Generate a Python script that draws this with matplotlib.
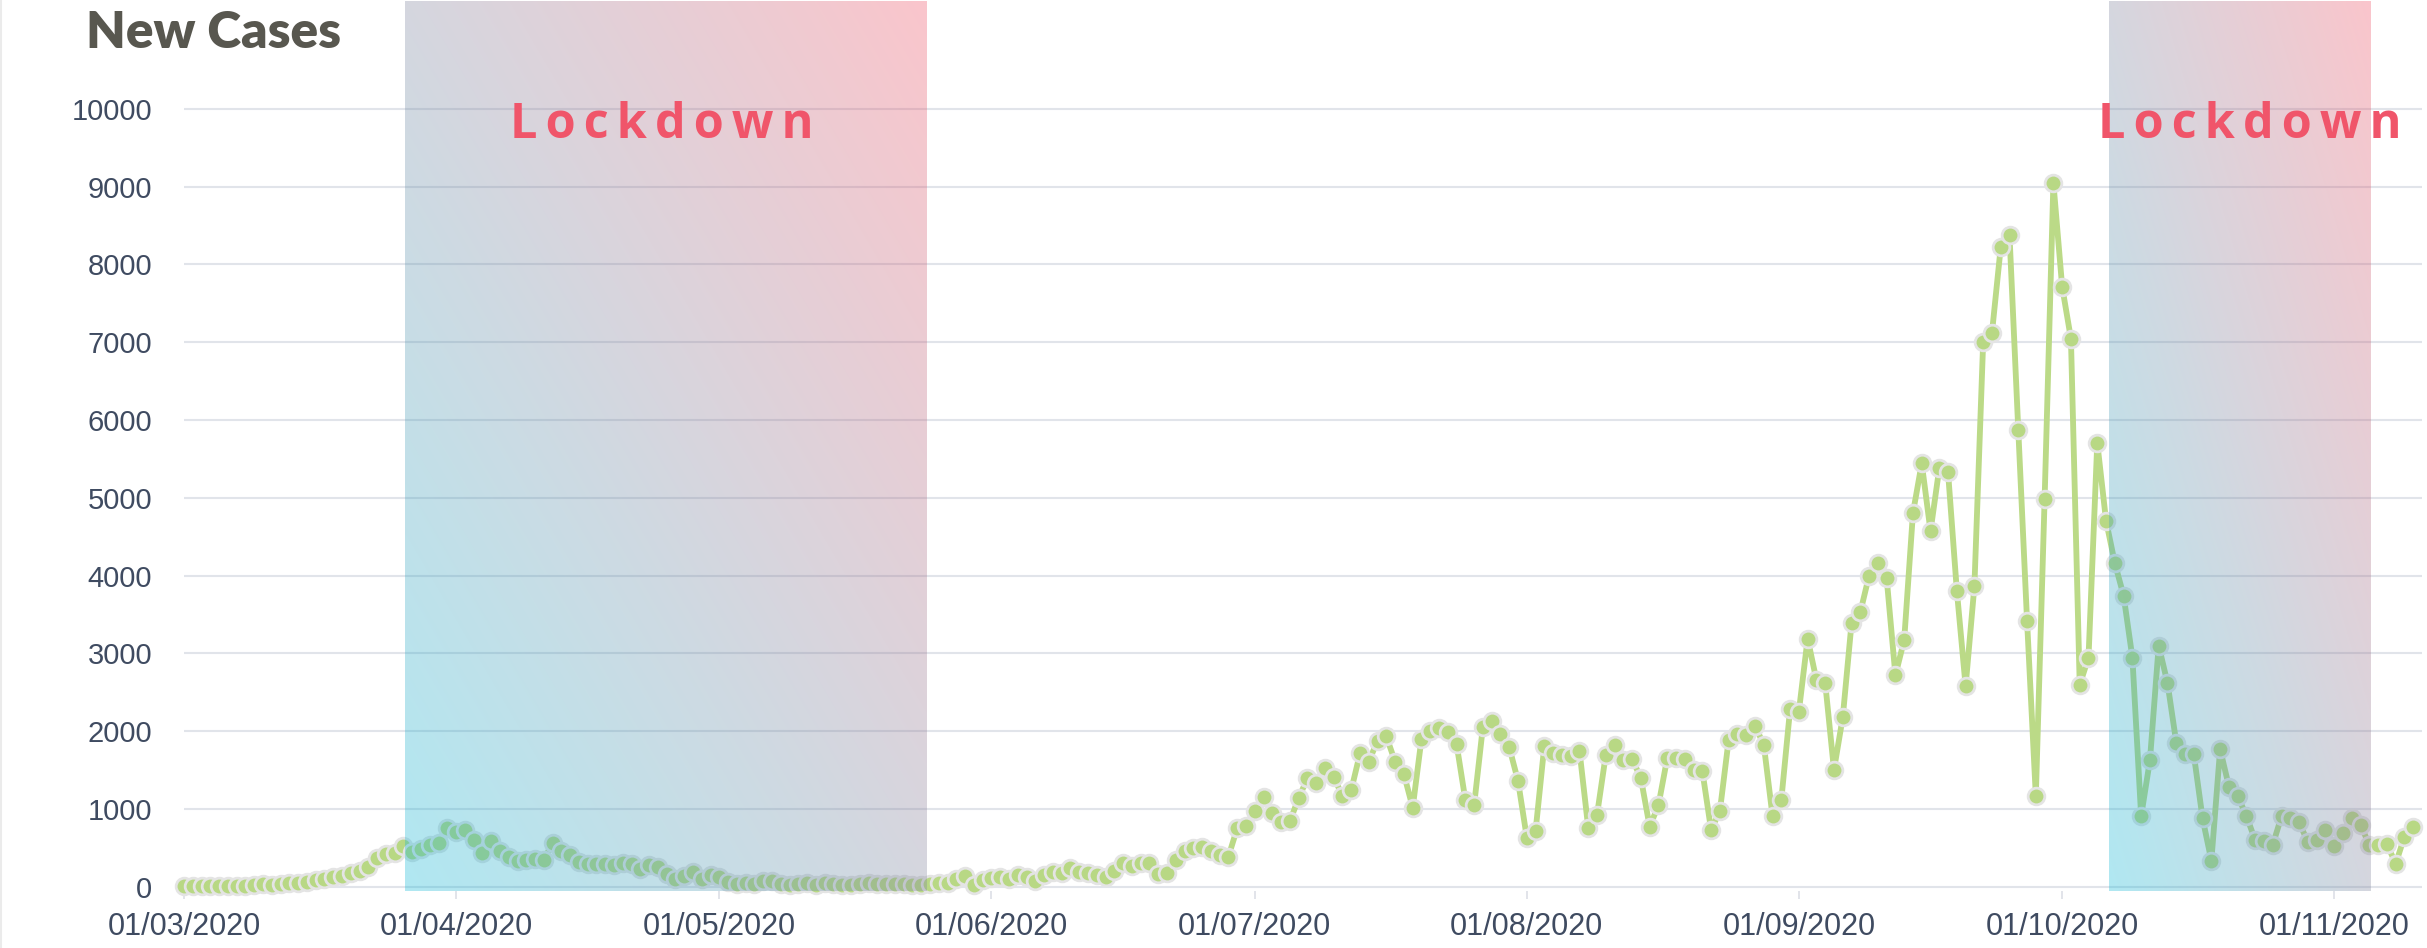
import numpy as np
import pandas as pd
import matplotlib
matplotlib.use("Agg")
import matplotlib.pyplot as plt
import matplotlib.dates as mdates
from matplotlib.lines import Line2D

# ---------------- data ----------------
title = "New Cases"
start_date = "2020-03-01"
new_cases = [
    3, 5, 4, 6, 8, 10, 12, 15, 20, 34,
    21, 30, 43, 43, 56, 86, 99, 120, 137, 171,
    206, 257, 364, 420, 437, 527, 450, 480, 536, 557,
    750, 707, 728, 600, 437, 587, 459, 386, 334, 343,
    356, 343, 566, 455, 405, 315, 296, 296, 292, 279,
    309, 287, 223, 275, 257, 163, 94, 137, 184, 99,
    150, 129, 64, 34, 51, 34, 77, 77, 34, 26,
    34, 43, 26, 43, 34, 21, 21, 30, 43, 34,
    34, 34, 30, 21, 21, 34, 43, 50, 94, 135,
    25, 86, 110, 129, 94, 146, 120, 77, 150, 184,
    172, 245, 193, 180, 146, 129, 206, 300, 266, 300,
    309, 159, 172, 343, 459, 493, 515, 463, 407, 386,
    751, 781, 974, 1150, 944, 837, 841, 1137, 1394, 1330,
    1530, 1416, 1160, 1244, 1716, 1609, 1879, 1931, 1605, 1446,
    1017, 1900, 2003, 2038, 1995, 1832, 1115, 1051, 2059, 2136,
    1961, 1793, 1360, 631, 716, 1815, 1725, 1695, 1682, 1750,
    759, 922, 1695, 1823, 1630, 1643, 1394, 772, 1047, 1652,
    1652, 1643, 1501, 1489, 729, 974, 1888, 1963, 1951, 2067,
    1828, 908, 1117, 2282, 2252, 3190, 2656, 2620, 1503, 2178,
    3386, 3528, 4000, 4160, 3969, 2718, 3172, 4804, 5442, 4571,
    5380, 5325, 3804, 2577, 3865, 7006, 7117, 8221, 8374, 5871,
    3417, 1166, 4982, 9049, 7712, 7043, 2595, 2945, 5706, 4706,
    4160, 3742, 2945, 908, 1626, 3098, 2620, 1853, 1706, 1700,
    877, 337, 1767, 1288, 1166, 908, 595, 583, 540, 908,
    877, 828, 571, 595, 724, 521, 693, 889, 797, 534,
    534, 552, 294, 644, 767,
]
lockdown_starts = ["2020-03-26 04:00", "2020-10-06 08:00"]
lockdown_ends = ["2020-05-24 13:00", "2020-11-05 02:00"]
lockdown_label = "Lockdown"
y_ticks = [0, 1000, 2000, 3000, 4000, 5000, 6000, 7000, 8000, 9000, 10000]
x_tick_dates = pd.date_range("2020-03-01", "2020-11-01", freq="MS")

# ---------------- figure ----------------
W, H = 2427, 948
fig = plt.figure(figsize=(W / 100, H / 100), dpi=100)
fig.patch.set_facecolor("white")
ax = fig.add_axes([184 / W, (H - 891) / H, (2422 - 184) / W, 890 / H])

dates = pd.date_range(start_date, periods=len(new_cases), freq="D")
ax.plot(dates, new_cases, color="#bbda87", lw=4.2, marker="o", ms=12,
        mfc="#b8d884", mec="#e4e4e4", mew=2.0, zorder=3, clip_on=False,
        solid_joinstyle="round")

ymin, ymax = -55, 11385
x0 = pd.Timestamp(start_date)
x1 = x0 + pd.Timedelta(days=255)

# gradient lockdown shading
n = 256
U, V = np.meshgrid(np.linspace(0, 1, n), np.linspace(0, 1, n))
T = (U + V) / 2
c0 = np.array([15, 185, 215]) / 255
c1 = np.array([240, 80, 100]) / 255
rgba = np.zeros((n, n, 4))
rgba[..., :3] = c0 * (1 - T[..., None]) + c1 * T[..., None]
rgba[..., 3] = 0.33
spaced_label = "\u2006".join(lockdown_label)
label_shift_days = [-0.4, 1.2]
for s, e, dx in zip(lockdown_starts, lockdown_ends, label_shift_days):
    xs = mdates.date2num(pd.Timestamp(s))
    xe = mdates.date2num(pd.Timestamp(e))
    ax.imshow(rgba, extent=[xs, xe, ymin, ymax], origin="lower",
              aspect="auto", zorder=4, interpolation="bilinear")
    xc = (xs + xe) / 2 + dx
    ax.text(xc, 9620, spaced_label, ha="center", va="baseline",
            fontsize=35, fontweight="bold", color="#f0556a",
            family=["Open Sans", "DejaVu Sans"], zorder=6)

ax.set_ylim(ymin, ymax)
ax.set_xlim(x0, x1)
ax.set_aspect("auto")

# axes styling
for sp in ax.spines.values():
    sp.set_visible(False)
ax.set_yticks(y_ticks)
ax.yaxis.grid(True, color="#e1e4ea", lw=1.5)
ax.xaxis.grid(False)
ax.set_axisbelow(True)
ax.set_xticks(x_tick_dates)
ax.xaxis.set_major_formatter(mdates.DateFormatter("%d/%m/%Y"))
ax.tick_params(axis="x", length=6, width=1.3, color="#dfe2e8", pad=9,
               labelsize=22, labelcolor="#3f4b61")
ax.tick_params(axis="y", length=0, pad=23, labelsize=21, labelcolor="#3f4b61")
for lab in ax.get_xticklabels() + ax.get_yticklabels():
    lab.set_family(["Liberation Sans", "DejaVu Sans"])

fig.text(86 / W, 1 - 48 / H, title, fontsize=37, fontweight="heavy",
         color="#58574f", family=["Lato", "DejaVu Sans"], va="baseline")
fig.add_artist(Line2D([1 / W, 1 / W], [0, 1], color="#ebebeb", lw=1.5))

fig.savefig("out.png", dpi=100, facecolor="white")
